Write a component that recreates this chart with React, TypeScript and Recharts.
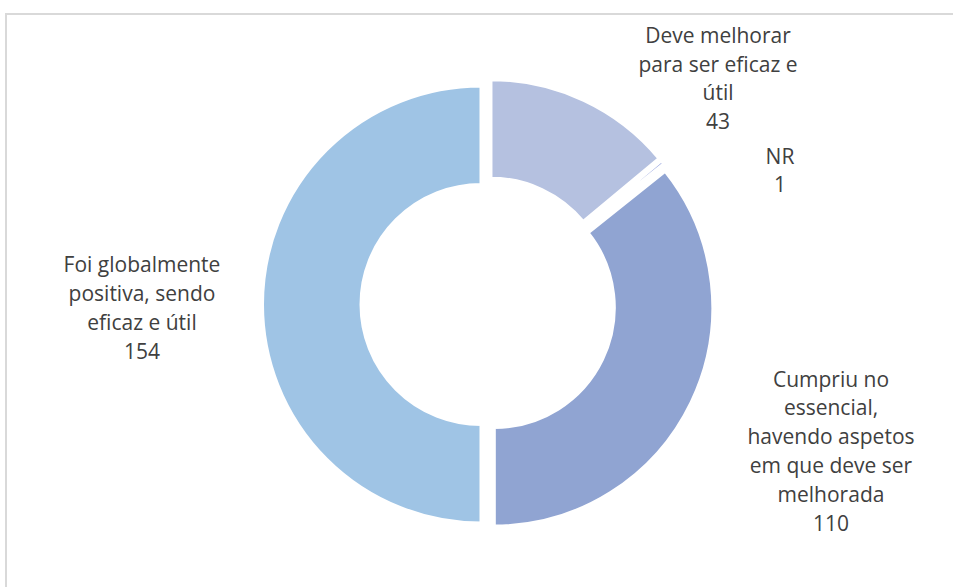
import React from 'react';
import { PieChart, Pie, Cell } from 'recharts';

// ---- data ----
const categories = [
  'Deve melhorar para ser eficaz e útil',
  'NR',
  'Cumpriu no essencial, havendo aspetos em que deve ser melhorada',
  'Foi globalmente positiva, sendo eficaz e útil',
];
const values = [43, 1, 110, 154];
const labelLines = [
  ['Deve melhorar', 'para ser eficaz e', 'útil'],
  ['NR'],
  ['Cumpriu no', 'essencial,', 'havendo aspetos', 'em que deve ser', 'melhorada'],
  ['Foi globalmente', 'positiva, sendo', 'eficaz e útil'],
];

// ---- style / layout ----
const colors = ['#b5c1e0', '#8f9ddb', '#90a4d2', '#9fc4e5'];
const strokeWidths = [3, 3.8, 3, 3];
const W = 953;
const H = 587;
const CX = 488;
const CY = 304.5;
const OUTER = 218.5;
const INNER = 120;
const EXPLODE = 7;
const LINE_H = 28.8;
const FONT = "'Open Sans', 'Noto Sans', sans-serif";
// label block centres, relative to the pie centre
const LABEL_POS = [
  { dx: 230, dy: -226.5 },
  { dx: 292, dy: -134.5 },
  { dx: 343, dy: 146 },
  { dx: -346, dy: 3 },
];

const data = categories.map((name, i) => ({ name, value: values[i] }));
const total = values.reduce((a, b) => a + b, 0);
const midAngles = values.map((v, i) => {
  const before = values.slice(0, i).reduce((a, b) => a + b, 0);
  return 90 - (360 * (before + v / 2)) / total;
});

function renderLabel(p: any, k: number) {
  if (p.index !== k) return null;
  const lines = [...labelLines[k], String(values[k])];
  const x = CX + LABEL_POS[k].dx;
  const yc = CY + LABEL_POS[k].dy;
  const n = lines.length;
  return (
    <g>
      {lines.map((t, j) => (
        <text
          key={j}
          x={x}
          y={yc + (j - (n - 1) / 2) * LINE_H}
          textAnchor="middle"
          dominantBaseline="central"
          fontFamily={FONT}
          fontSize={21}
          fill="#404040"
        >
          {t}
        </text>
      ))}
    </g>
  );
}

export default function App() {
  return (
    <div style={{ position: 'fixed', left: 0, top: 0, width: W, height: H, background: '#fff' }}>
      <div
        style={{
          position: 'absolute',
          left: 5,
          top: 13,
          width: W - 5,
          height: H - 13,
          borderTop: '2px solid #d9d9d9',
          borderLeft: '2px solid #d9d9d9',
          boxSizing: 'border-box',
        }}
      />
      <div style={{ position: 'absolute', left: 0, top: 0 }}>
        <PieChart width={W} height={H} margin={{ top: 0, right: 0, bottom: 0, left: 0 }}>
          {values.map((_, k) => {
            const a = (midAngles[k] * Math.PI) / 180;
            const cx = CX + EXPLODE * Math.cos(a);
            const cy = CY - EXPLODE * Math.sin(a);
            return (
              <Pie
                key={k}
                data={data}
                dataKey="value"
                nameKey="name"
                cx={cx}
                cy={cy}
                innerRadius={INNER}
                outerRadius={OUTER}
                startAngle={90}
                endAngle={-270}
                isAnimationActive={false}
                labelLine={false}
                label={(p: any) => renderLabel(p, k)}
              >
                {data.map((d, i) => (
                  <Cell
                    key={i}
                    fill={i === k ? colors[i] : 'none'}
                    stroke={i === k ? '#ffffff' : 'none'}
                    strokeWidth={i === k ? strokeWidths[i] : 0}
                  />
                ))}
              </Pie>
            );
          })}
        </PieChart>
      </div>
    </div>
  );
}
